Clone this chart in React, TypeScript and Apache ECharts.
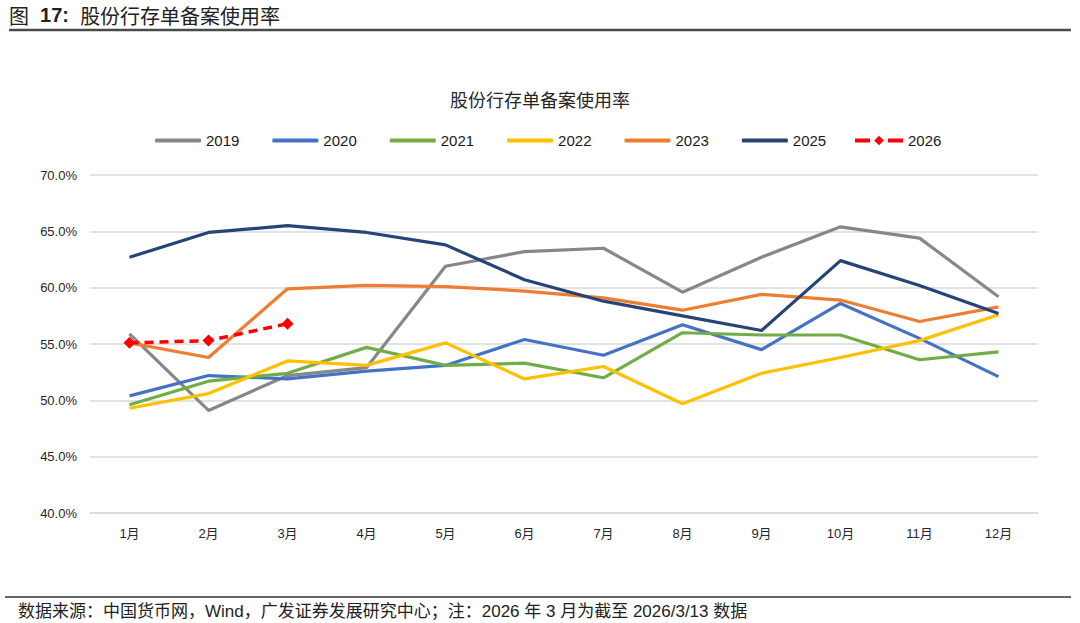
import React, { useEffect, useRef } from "react";
import * as echarts from "echarts";

const months = ["1月", "2月", "3月", "4月", "5月", "6月", "7月", "8月", "9月", "10月", "11月", "12月"];
const s2019 = [55.9, 49.1, 52.2, 52.9, 61.9, 63.2, 63.5, 59.6, 62.7, 65.4, 64.4, 59.2];
const s2020 = [50.4, 52.2, 51.9, 52.6, 53.1, 55.4, 54.0, 56.7, 54.5, 58.6, 55.5, 52.1];
const s2021 = [49.6, 51.7, 52.4, 54.7, 53.1, 53.3, 52.0, 56.0, 55.8, 55.8, 53.6, 54.3];
const s2022 = [49.3, 50.6, 53.5, 53.1, 55.1, 51.9, 53.0, 49.7, 52.4, 53.8, 55.3, 57.6];
const s2023 = [55.1, 53.8, 59.9, 60.2, 60.1, 59.7, 59.1, 58.0, 59.4, 58.9, 57.0, 58.3];
const s2025 = [62.7, 64.9, 65.5, 64.9, 63.8, 60.7, 58.8, 57.5, 56.2, 62.4, 60.2, 57.7];
const s2026 = [55.1, 55.3, 56.8];

const yTicks = { min: 40, max: 70, interval: 5 };

const FONT = "'Liberation Sans', 'Noto Sans CJK SC', sans-serif";
const CJK = "'Noto Sans CJK SC', 'Liberation Sans', sans-serif";

export default function App() {
  const ref = useRef<HTMLDivElement>(null);
  useEffect(() => {
    if (!ref.current) return;
    const chart = echarts.init(ref.current, undefined, { renderer: "svg" });
    const line = (name: string, data: number[], color: string) => ({
      name,
      type: "line",
      data,
      symbol: "none",
      lineStyle: { width: 3.2, color },
      itemStyle: { color },
      z: 2,
    });
    chart.setOption({
      animation: false,
      textStyle: { fontFamily: FONT },
      title: {
        text: "股份行存单备案使用率",
        left: "center",
        top: 85,
        textStyle: { fontSize: 18, fontWeight: "normal", color: "#262626", fontFamily: CJK },
      },
      legend: [
        {
          top: 128,
          left: 150,
          itemWidth: 46,
          itemHeight: 4,
          itemGap: 33,
          icon: "roundRect",
          textStyle: { fontSize: 15, color: "#1a1a1a", fontFamily: FONT },
          data: ["2019", "2020", "2021", "2022", "2023", "2025"],
        },
        {
          top: 128,
          left: 848,
          itemWidth: 48,
          itemHeight: 12,
          lineStyle: { type: [15, 18], width: 4 },
          textStyle: { fontSize: 15, color: "#1a1a1a", fontFamily: FONT },
          data: ["2026"],
        },
      ],
      grid: { left: 90, right: 42, top: 175, bottom: 110 },
      xAxis: {
        type: "category",
        data: months,
        boundaryGap: true,
        axisLine: { lineStyle: { color: "#d9d9d9", width: 1.5 } },
        axisTick: { show: false },
        axisLabel: { fontSize: 13, color: "#262626", margin: 14, fontFamily: FONT },
      },
      yAxis: {
        type: "value",
        min: yTicks.min,
        max: yTicks.max,
        interval: yTicks.interval,
        axisLine: { show: false },
        axisTick: { show: false },
        splitLine: { lineStyle: { color: "#d9d9d9", width: 1.5 } },
        axisLabel: {
          fontSize: 13,
          color: "#262626",
          margin: 13,
          fontFamily: FONT,
          formatter: (v: number) => v.toFixed(1) + "%",
        },
      },
      graphic: [
        {
          type: "text",
          left: 9,
          top: 4,
          style: {
            text: "{a|图}  {b|17:}  {a|股份行存单备案使用率}",
            rich: {
              a: { fontSize: 20, lineHeight: 22, fontFamily: CJK, fill: "#222", fontWeight: "normal" },
              b: { fontSize: 20, lineHeight: 22, fontFamily: FONT, fill: "#222", fontWeight: "bold" },
            },
            fontSize: 20,
            lineHeight: 22,
            fill: "#222",
          },
        },
        {
          type: "line",
          shape: { x1: 9, y1: 30, x2: 1071, y2: 30 },
          style: { stroke: "#4a4a4a", lineWidth: 2.5 },
        },
        {
          type: "line",
          shape: { x1: 5, y1: 597, x2: 1071, y2: 597 },
          style: { stroke: "#333", lineWidth: 1.5 },
        },
        {
          type: "text",
          left: 18,
          top: 602,
          style: {
            text: "数据来源：中国货币网，Wind，广发证券发展研究中心；注：2026 年 3 月为截至 2026/3/13 数据",
            fontSize: 17,
            lineHeight: 19,
            fill: "#222",
            fontFamily: FONT,
          },
        },
      ],
      series: [
        line("2019", s2019, "#878787"),
        line("2020", s2020, "#4472C4"),
        line("2021", s2021, "#70AD47"),
        line("2022", s2022, "#FFC000"),
        line("2023", s2023, "#ED7D31"),
        line("2025", s2025, "#264478"),
        {
          name: "2026",
          type: "line",
          data: s2026,
          symbol: "diamond",
          symbolSize: 12,
          lineStyle: { width: 3.5, color: "#FF0000", type: [9, 6] },
          itemStyle: { color: "#FF0000" },
          z: 3,
        },
      ],
    });
    return () => chart.dispose();
  }, []);
  return (
    <div
      ref={ref}
      style={{ position: "absolute", left: 0, top: 0, width: 1080, height: 623, background: "#fff" }}
    />
  );
}
